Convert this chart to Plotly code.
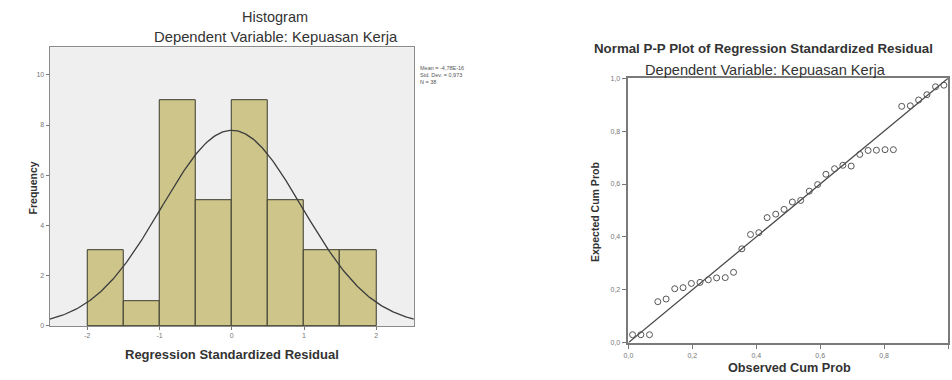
import numpy as np
import plotly.graph_objects as go

# ---------------- data ----------------
bin_centers = [-1.75, -1.25, -0.75, -0.25, 0.25, 0.75, 1.25, 1.75]
bin_counts = [3, 1, 9, 5, 9, 5, 3, 3]
bin_width = 0.5
hist_ticks = [-2, -1, 0, 1, 2]
hist_ticklabels = ["-2", "-1", "0", "1", "2"]
freq_ticks = [0, 2, 4, 6, 8, 10]
resid_mean = 0.0
resid_sd = 0.973
resid_n = 38
stats_lines = ["Mean = -4,78E-16", "Std. Dev. = 0,973", "N = 38"]

observed_cum = [0.013, 0.039, 0.066, 0.092, 0.118, 0.145, 0.171, 0.197, 0.224, 0.250,
                0.276, 0.303, 0.329, 0.355, 0.382, 0.408, 0.434, 0.461, 0.487, 0.513,
                0.539, 0.566, 0.592, 0.618, 0.645, 0.671, 0.697, 0.724, 0.750, 0.776,
                0.803, 0.829, 0.855, 0.882, 0.908, 0.934, 0.961, 0.987]
expected_cum = [0.030, 0.030, 0.030, 0.155, 0.165, 0.204, 0.208, 0.224, 0.228, 0.238,
                0.245, 0.246, 0.266, 0.355, 0.409, 0.416, 0.473, 0.486, 0.504, 0.532,
                0.538, 0.573, 0.598, 0.637, 0.658, 0.671, 0.668, 0.712, 0.727, 0.728,
                0.730, 0.730, 0.894, 0.896, 0.918, 0.938, 0.968, 0.974]
pp_ticks = [0, 0.2, 0.4, 0.6, 0.8, 1.0]
pp_ticklabels = ["0,0", "0,2", "0,4", "0,6", "0,8", "1,0"]
ref_line = [0, 1]

# ---------------- layout helpers ----------------
W, H = 952, 380
def px(x):
    return x / W
def py(y):
    return 1 - y / H

FONT = "Liberation Sans, Arial, sans-serif"
BAR_COLOR = "#CDC58A"

fig = go.Figure()

# histogram bars
fig.add_trace(go.Bar(
    x=bin_centers, y=bin_counts, width=bin_width,
    marker=dict(color=BAR_COLOR, line=dict(color="#3b3a2c", width=1)),
    xaxis="x", yaxis="y", showlegend=False, hoverinfo="skip"))

# fitted normal curve (from stated mean / sd / N)
xs = np.linspace(-2.52, 2.52, 300)
ys = resid_n * bin_width / (resid_sd * np.sqrt(2 * np.pi)) * np.exp(-0.5 * ((xs - resid_mean) / resid_sd) ** 2)
fig.add_trace(go.Scatter(
    x=xs, y=ys, mode="lines", line=dict(color="#3d3d3d", width=1.3),
    xaxis="x", yaxis="y", showlegend=False, hoverinfo="skip"))

# P-P reference line
fig.add_trace(go.Scatter(
    x=ref_line, y=ref_line, mode="lines", line=dict(color="#4a4a4a", width=1.3),
    xaxis="x2", yaxis="y2", showlegend=False, hoverinfo="skip", cliponaxis=False))

# P-P points
fig.add_trace(go.Scatter(
    x=observed_cum, y=expected_cum, mode="markers",
    marker=dict(symbol="circle-open", size=6, color="#555555", line=dict(width=1)),
    xaxis="x2", yaxis="y2", showlegend=False, hoverinfo="skip", cliponaxis=False))

tickfont = dict(family=FONT, size=7, color="#777777")

fig.update_layout(
    width=W, height=H,
    margin=dict(l=0, r=0, t=0, b=0),
    paper_bgcolor="white",
    plot_bgcolor="rgba(0,0,0,0)",
    bargap=0,
    xaxis=dict(domain=[px(45), px(411)], range=[-2.52, 2.52],
               tickvals=hist_ticks, ticktext=hist_ticklabels,
               ticks="outside", ticklen=3, tickcolor="#777", tickfont=tickfont,
               showline=True, linecolor="#8a8a8a", linewidth=1.2, mirror=True,
               showgrid=False, zeroline=False, fixedrange=True),
    yaxis=dict(domain=[py(328), py(44)], range=[0, 11.1],
               tickvals=freq_ticks, ticks="outside", ticklen=3, tickcolor="#777",
               tickfont=tickfont,
               showline=True, linecolor="#8a8a8a", linewidth=1.2, mirror=True,
               showgrid=False, zeroline=False, fixedrange=True),
    xaxis2=dict(domain=[px(626.7), px(948)], range=[0, 1],
                tickvals=pp_ticks, ticktext=pp_ticklabels,
                ticks="outside", ticklen=5, tickcolor="#777", tickfont=tickfont,
                showline=True, linecolor="#7a7a7a", linewidth=1.5, mirror=True,
                showgrid=False, zeroline=False, fixedrange=True, anchor="y2"),
    yaxis2=dict(domain=[py(345), py(75.7)], range=[0, 1],
                tickvals=pp_ticks, ticktext=pp_ticklabels,
                ticks="outside", ticklen=5, tickcolor="#777", tickfont=tickfont,
                showline=True, linecolor="#7a7a7a", linewidth=1.5, mirror=True,
                showgrid=False, zeroline=False, fixedrange=True, anchor="x2"),
    shapes=[dict(type="rect", xref="x domain", yref="y domain", x0=0, x1=1, y0=0, y1=1,
                 fillcolor="#EFEFEF", line=dict(width=0), layer="below")],
)

def ann(text, x, y, size, bold=False, angle=0, color="#2a2a2a", xanchor="center", yanchor="middle"):
    if bold:
        text = "<b>" + text + "</b>"
    fig.add_annotation(text=text, x=x, y=y, xref="paper", yref="paper",
                       xanchor=xanchor, yanchor=yanchor, showarrow=False, textangle=angle,
                       font=dict(family=FONT, size=size, color=color))

# histogram texts
ann("Histogram", px(271), py(13), 14.5, color="#333")
ann("Dependent Variable: Kepuasan Kerja", px(272), py(34), 14.8, color="#333")
ann("Regression Standardized Residual", px(228), py(357), 13, bold=True, color="#333")
ann("Frequency", px(28), py(187), 10.5, bold=True, angle=-90, color="#333")
fig.add_annotation(text="<br>".join(stats_lines), x=px(415), y=py(60), xref="paper", yref="paper",
                   xanchor="left", yanchor="top", align="left", showarrow=False,
                   font=dict(family=FONT, size=5.5, color="#555"))

# P-P texts
ann("Normal P-P Plot of Regression Standardized Residual", px(763), py(45), 13.3, bold=True, color="#333")
ann("Dependent Variable: Kepuasan Kerja", px(765), py(67), 14.6, color="#333")
ann("Observed Cum Prob", px(789), py(371), 12.7, bold=True, color="#333")
ann("Expected Cum Prob", px(593), py(212), 10.5, bold=True, angle=-90, color="#333")

fig.write_html("out.html",
               config={"displayModeBar": False},
               post_script="document.body.style.margin='0';document.body.style.overflow='hidden';")
